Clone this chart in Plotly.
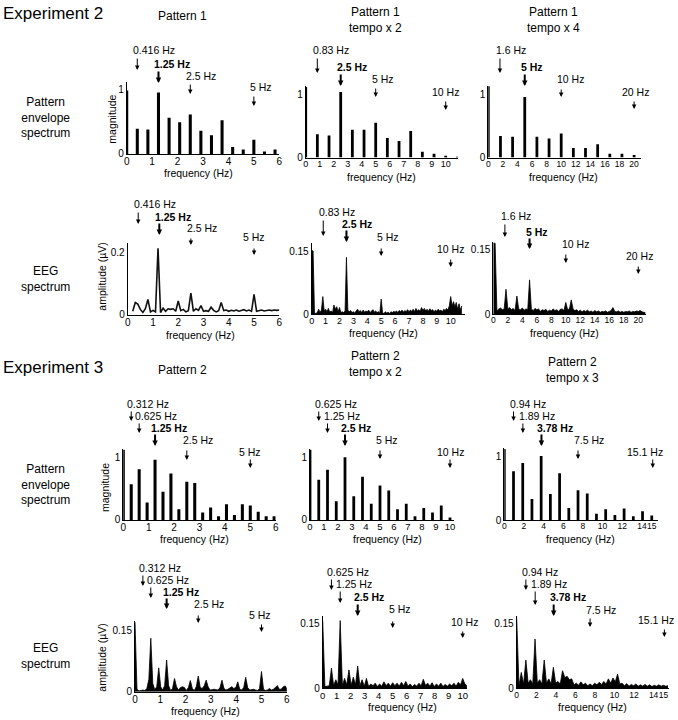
import plotly.graph_objects as go

W, H = 678, 720
FONT = "Liberation Sans, Arial, Helvetica, sans-serif"

# ---------------------------------------------------------------- data
# Pattern envelope spectra: peak frequency (Hz) and magnitude
e2_env1_freq = [0, 0.417, 0.833, 1.25, 1.667, 2.083, 2.5, 2.917, 3.333, 3.75, 4.167, 4.583, 5.0, 5.417, 5.833]
e2_env1_mag = [0.98, 0.39, 0.38, 0.95, 0.56, 0.49, 0.61, 0.36, 0.29, 0.52, 0.11, 0.07, 0.22, 0.04, 0.07]
e2_env2_freq = [0, 0.833, 1.667, 2.5, 3.333, 4.167, 5.0, 5.833, 6.667, 7.5, 8.333, 9.167, 10.0, 10.833]
e2_env2_mag = [1.12, 0.37, 0.35, 1.04, 0.44, 0.44, 0.55, 0.31, 0.26, 0.42, 0.09, 0.06, 0.02, 0.01]
e2_env3_freq = [0, 1.667, 3.333, 5.0, 6.667, 8.333, 10.0, 11.667, 13.333, 15.0, 16.667, 18.333, 20.0]
e2_env3_mag = [1.13, 0.34, 0.33, 0.96, 0.33, 0.30, 0.38, 0.15, 0.15, 0.21, 0.06, 0.06, 0.04]

e3_env1_freq = [0, 0.3125, 0.625, 0.9375, 1.25, 1.5625, 1.875, 2.1875, 2.5, 2.8125, 3.125, 3.4375,
                3.75, 4.0625, 4.375, 4.6875, 5.0, 5.3125, 5.625, 5.9375]
e3_env1_mag = [1.12, 0.57, 0.81, 0.28, 0.96, 0.45, 0.74, 0.17, 0.61, 0.59, 0.12, 0.20,
               0.06, 0.25, 0.08, 0.25, 0.23, 0.13, 0.06, 0.06]
e3_env2_freq = [0, 0.625, 1.25, 1.875, 2.5, 3.125, 3.75, 4.375, 5.0, 5.625, 6.25, 6.875, 7.5, 8.125, 8.75, 9.375, 10.0]
e3_env2_mag = [1.12, 0.64, 0.80, 0.30, 1.0, 0.38, 0.69, 0.26, 0.55, 0.47, 0.17, 0.26, 0.06, 0.19, 0.12, 0.23, 0.04]
e3_env3_freq = [0, 0.9375, 1.875, 2.8125, 3.75, 4.6875, 5.625, 6.5625, 7.5, 8.4375, 9.375, 10.3125,
                11.25, 12.1875, 13.125, 14.0625, 15.0]
e3_env3_mag = [1.12, 0.77, 0.90, 0.33, 1.01, 0.41, 0.74, 0.19, 0.47, 0.42, 0.10, 0.17,
               0.08, 0.18, 0.06, 0.14, 0.07]

# EEG amplitude spectra (µV) sampled on regular frequency bins (start, step, values)
e2_eeg1_start, e2_eeg1_step = 0.2, 0.1
e2_eeg1_amp = [0.012, 0.04, 0.035, 0.018, 0.008, 0.02, 0.05, 0.01, 0.015, 0.01,
               0.214, 0.008, 0.022, 0.012, 0.02, 0.018, 0.02, 0.012, 0.045, 0.014,
               0.018, 0.01, 0.014, 0.07, 0.012, 0.02, 0.015, 0.03, 0.012, 0.014,
               0.012, 0.025, 0.015, 0.01, 0.014, 0.04, 0.014, 0.016, 0.012, 0.015,
               0.013, 0.016, 0.012, 0.014, 0.017, 0.013, 0.016, 0.012, 0.066, 0.012,
               0.014, 0.016, 0.013, 0.015, 0.016, 0.014, 0.016, 0.015, 0.016]
e2_eeg2_start, e2_eeg2_step = 0.0, 0.1
e2_eeg2_amp = [0.151, 0.15, 0.003, 0.002, 0.004, 0.012, 0.004, 0.01, 0.042, 0.008,
               0.012, 0.006, 0.014, 0.005, 0.008, 0.004, 0.022, 0.012, 0.018, 0.006,
               0.016, 0.004, 0.006, 0.004, 0.008, 0.135, 0.01, 0.006, 0.009, 0.004,
               0.006, 0.003, 0.008, 0.012, 0.006, 0.009, 0.004, 0.01, 0.005, 0.008,
               0.006, 0.01, 0.004, 0.009, 0.011, 0.005, 0.008, 0.004, 0.006, 0.003,
               0.036, 0.003, 0.002, 0.006, 0.003, 0.005, 0.002, 0.006, 0.004, 0.007,
               0.005, 0.008, 0.004, 0.009, 0.006, 0.01, 0.005, 0.009, 0.006, 0.011,
               0.006, 0.01, 0.007, 0.012, 0.006, 0.014, 0.008, 0.011, 0.007, 0.016,
               0.009, 0.014, 0.008, 0.012, 0.007, 0.013, 0.009, 0.011, 0.006, 0.01,
               0.007, 0.012, 0.008, 0.01, 0.006, 0.012, 0.009, 0.014, 0.01, 0.02,
               0.042, 0.02, 0.03, 0.018, 0.028, 0.012, 0.025, 0.01, 0.02]
e2_eeg3_start, e2_eeg3_step = 0.0, 0.25
e2_eeg3_amp = [0.166, 0.166, 0.006, 0.012, 0.014, 0.01, 0.012, 0.058, 0.012, 0.015,
               0.01, 0.013, 0.008, 0.042, 0.012, 0.01, 0.014, 0.009, 0.012, 0.01,
               0.08, 0.012, 0.008, 0.013, 0.01, 0.012, 0.006, 0.01, 0.008, 0.011,
               0.006, 0.009, 0.007, 0.012, 0.008, 0.01, 0.006, 0.011, 0.012, 0.008,
               0.027, 0.01, 0.012, 0.033, 0.012, 0.008, 0.01, 0.006, 0.009, 0.005,
               0.008, 0.006, 0.009, 0.005, 0.007, 0.004, 0.008, 0.005, 0.007, 0.004,
               0.006, 0.005, 0.007, 0.004, 0.006, 0.008, 0.015, 0.006, 0.005, 0.007,
               0.004, 0.006, 0.004, 0.006, 0.005, 0.007, 0.004, 0.006, 0.005, 0.007,
               0.006, 0.008, 0.005, 0.004, 0.003]

e3_eeg1_start, e3_eeg1_step = 0.0, 0.078125
e3_eeg1_amp = [0.169, 0.006, 0.002, 0.003, 0.004, 0.003, 0.008, 0.03, 0.13, 0.02,
               0.005, 0.012, 0.058, 0.012, 0.004, 0.015, 0.077, 0.015, 0.003, 0.008,
               0.032, 0.012, 0.004, 0.01, 0.012, 0.01, 0.003, 0.01, 0.027, 0.008,
               0.003, 0.012, 0.038, 0.01, 0.008, 0.014, 0.028, 0.012, 0.004, 0.005,
               0.006, 0.005, 0.004, 0.01, 0.028, 0.008, 0.004, 0.006, 0.01, 0.012,
               0.008, 0.01, 0.024, 0.006, 0.004, 0.01, 0.035, 0.01, 0.004, 0.005,
               0.006, 0.004, 0.003, 0.008, 0.049, 0.006, 0.003, 0.004, 0.008, 0.004,
               0.006, 0.01, 0.015, 0.006, 0.006, 0.012, 0.014, 0.006]
e3_eeg2_start, e3_eeg2_step = 0.0, 0.15625
e3_eeg2_amp = [0.158, 0.004, 0.005, 0.006, 0.047, 0.006, 0.02, 0.008, 0.158, 0.006,
               0.023, 0.008, 0.043, 0.007, 0.026, 0.008, 0.052, 0.006, 0.02, 0.005,
               0.023, 0.004, 0.01, 0.006, 0.012, 0.004, 0.01, 0.005, 0.015, 0.006,
               0.012, 0.005, 0.013, 0.006, 0.012, 0.005, 0.014, 0.006, 0.016, 0.005,
               0.01, 0.004, 0.009, 0.005, 0.012, 0.006, 0.021, 0.007, 0.012, 0.005,
               0.013, 0.004, 0.01, 0.005, 0.012, 0.004, 0.009, 0.005, 0.01, 0.006,
               0.012, 0.005, 0.014, 0.008, 0.023, 0.01, 0.006]
e3_eeg3_start, e3_eeg3_step = 0.0, 0.234375
e3_eeg3_amp = [0.163, 0.006, 0.037, 0.01, 0.066, 0.012, 0.02, 0.01, 0.115, 0.012,
               0.02, 0.01, 0.066, 0.012, 0.022, 0.01, 0.049, 0.012, 0.016, 0.01,
               0.041, 0.025, 0.028, 0.02, 0.022, 0.008, 0.012, 0.007, 0.015, 0.008,
               0.012, 0.006, 0.01, 0.006, 0.012, 0.008, 0.014, 0.009, 0.016, 0.01,
               0.022, 0.012, 0.024, 0.015, 0.033, 0.01, 0.012, 0.006, 0.011, 0.005,
               0.009, 0.006, 0.01, 0.005, 0.008, 0.005, 0.009, 0.005, 0.008, 0.004,
               0.007, 0.005, 0.008, 0.005, 0.007, 0.005, 0.006]

# tick labels
ticks_6 = [0, 1, 2, 3, 4, 5, 6]
ticks_10 = [0, 1, 2, 3, 4, 5, 6, 7, 8, 9, 10]
ticks_20 = [0, 2, 4, 6, 8, 10, 12, 14, 16, 18, 20]
ticks_15 = [0, 2, 4, 6, 8, 10, 12, 14, 15]
yticks_env = [0, 1]
yticks_eeg02 = [0, 0.2]
yticks_eeg015 = [0, 0.15]

# marked frequencies (arrow position in Hz, label text, index of the bold one)
mark_e2_p1 = ([0.416, 1.25, 2.5, 5], ["0.416 Hz", "1.25 Hz", "2.5 Hz", "5 Hz"], 1)
mark_e2_p1x2 = ([0.83, 2.5, 5, 10], ["0.83 Hz", "2.5 Hz", "5 Hz", "10 Hz"], 1)
mark_e2_p1x4 = ([1.6, 5, 10, 20], ["1.6 Hz", "5 Hz", "10 Hz", "20 Hz"], 1)
mark_e3_p2 = ([0.312, 0.625, 1.25, 2.5, 5], ["0.312 Hz", "0.625 Hz", "1.25 Hz", "2.5 Hz", "5 Hz"], 2)
mark_e3_p2x2 = ([0.625, 1.25, 2.5, 5, 10], ["0.625 Hz", "1.25 Hz", "2.5 Hz", "5 Hz", "10 Hz"], 2)
mark_e3_p2x3 = ([0.94, 1.89, 3.78, 7.5, 15.1], ["0.94 Hz", "1.89 Hz", "3.78 Hz", "7.5 Hz", "15.1 Hz"], 2)


def bins(start, step, values):
    return [round(start + i * step, 6) for i in range(len(values))]


# ---------------------------------------------------------------- layout (pixels)
panels = [
    dict(kind="env", x=e2_env1_freq, y=e2_env1_mag, bw=0.12, x0=126.7, ppx=25.43, xmax=6.0,
         yb=154, ppy=64.7, ymax=1.12, xt=ticks_6, yt=yticks_env, mark=mark_e2_p1,
         ttl=(198, 173.3), tfs=10),
    dict(kind="env", x=e2_env2_freq, y=e2_env2_mag, bw=0.2, x0=305.7, ppx=14.0, xmax=10.9,
         yb=157.5, ppy=63.0, ymax=1.14, xt=ticks_10, yt=yticks_env, mark=mark_e2_p1x2,
         ttl=(382, 177.3), tfs=9),
    dict(kind="env", x=e2_env3_freq, y=e2_env3_mag, bw=0.38, x0=488.3, ppx=7.29, xmax=21.0,
         yb=157.5, ppy=63.0, ymax=1.14, xt=ticks_20, yt=yticks_env, mark=mark_e2_p1x4,
         ttl=(563, 177.3), tfs=8.5),
    dict(kind="line", x=bins(e2_eeg1_start, e2_eeg1_step, e2_eeg1_amp), y=e2_eeg1_amp,
         x0=127.7, ppx=25.27, xmax=6.0, yb=315, ppy=311.5, ymax=0.23, xt=ticks_6,
         yt=yticks_eeg02, mark=mark_e2_p1, ttl=(200, 335), tfs=10),
    dict(kind="fill", x=bins(e2_eeg2_start, e2_eeg2_step, e2_eeg2_amp), y=e2_eeg2_amp,
         x0=311.7, ppx=13.9, xmax=11.0, yb=314.3, ppy=422, ymax=0.168, xt=ticks_10,
         yt=yticks_eeg015, mark=mark_e2_p1x2, ttl=(383, 333.3), tfs=9),
    dict(kind="fill", x=bins(e2_eeg3_start, e2_eeg3_step, e2_eeg3_amp), y=e2_eeg3_amp,
         x0=493.3, ppx=7.25, xmax=21.0, yb=314, ppy=426.7, ymax=0.168, xt=ticks_20,
         yt=yticks_eeg015, mark=mark_e2_p1x4, ttl=(564, 333.3), tfs=8.5),
    dict(kind="env", x=e3_env1_freq, y=e3_env1_mag, bw=0.12, x0=123.3, ppx=25.4, xmax=6.0,
         yb=520, ppy=62.7, ymax=1.13, xt=ticks_6, yt=yticks_env, mark=mark_e3_p2,
         ttl=(194, 539.3), tfs=10),
    dict(kind="env", x=e3_env2_freq, y=e3_env2_mag, bw=0.2, x0=310, ppx=14.0, xmax=10.3,
         yb=520, ppy=62.7, ymax=1.13, xt=ticks_10, yt=yticks_env, mark=mark_e3_p2x2,
         ttl=(387, 539), tfs=9.5),
    dict(kind="env", x=e3_env3_freq, y=e3_env3_mag, bw=0.28, x0=504.3, ppx=9.83, xmax=15.6,
         yb=520, ppy=63.3, ymax=1.13, xt=ticks_15, yt=yticks_env, mark=mark_e3_p2x3,
         ttl=(580, 539), tfs=8.5),
    dict(kind="fill", x=bins(e3_eeg1_start, e3_eeg1_step, e3_eeg1_amp), y=e3_eeg1_amp,
         x0=135, ppx=25.3, xmax=6.0, yb=691.7, ppy=411.3, ymax=0.172, xt=ticks_6,
         yt=yticks_eeg015, mark=mark_e3_p2, ttl=(205, 711), tfs=10),
    dict(kind="fill", x=bins(e3_eeg2_start, e3_eeg2_step, e3_eeg2_amp), y=e3_eeg2_amp,
         x0=322.7, ppx=14.0, xmax=10.3, yb=688.3, ppy=428.7, ymax=0.168, xt=ticks_10,
         yt=yticks_eeg015, mark=mark_e3_p2x2, ttl=(402, 707), tfs=9.5),
    dict(kind="fill", x=bins(e3_eeg3_start, e3_eeg3_step, e3_eeg3_amp), y=e3_eeg3_amp,
         x0=516.7, ppx=9.78, xmax=15.6, yb=688.3, ppy=428.7, ymax=0.168, xt=ticks_15,
         yt=yticks_eeg015, mark=mark_e3_p2x3, ttl=(592, 707), tfs=8.5),
]

# label/arrow placement per panel: (text y px, anchor, dx px, arrow top px, arrow tip px)
mark_pos = [
    [(50, "l", 0, 57, 70), (64, "l", 0, 70, 83), (76, "l", 0, 83, 94), (87, "l", 0, 95, 106)],
    [(50, "l", 0, 57, 73), (66.7, "l", 0, 73, 86), (79, "l", 0, 87, 97), (91.7, "c", 0, 100, 110)],
    [(50, "l", 0, 57, 73), (67, "l", 0, 73, 86), (79, "l", 0, 88, 97), (91.7, "c", 1, 100, 109)],
    [(204, "l", 0, 211, 224), (217, "l", 0, 222, 235), (228, "l", 0, 237, 245), (237, "c", 0, 247, 255)],
    [(212, "l", 0, 219, 236), (224, "l", 0, 229, 242), (237, "l", 0, 247, 256), (249, "c", 0, 258, 267)],
    [(216, "l", 0, 223, 237), (232, "l", 0, 237, 249), (244, "l", 0, 253, 263), (256, "c", 1, 265, 274)],
    [(404, "l", 0, 410, 421), (416, "l", 0, 422, 433), (428, "l", 0, 433, 446), (440, "l", 0, 449, 460), (452, "c", 0, 458, 468)],
    [(404, "l", 0, 410, 421), (416, "l", 0, 422, 433), (428, "l", 0, 433, 446), (440, "l", 0, 449, 459), (452, "c", 0, 458, 468)],
    [(404, "l", 0, 410, 421), (416, "l", 0, 422, 433), (428, "l", 0, 433, 446), (440, "l", 0, 449, 459), (452, "r", 12, 458, 468)],
    [(568, "l", 0, 574, 586), (580, "l", 0, 586, 598), (592, "l", 0, 597, 609), (604, "l", 0, 614, 623), (615, "c", -2, 623, 632)],
    [(572, "l", 0, 578, 590), (584, "l", 0, 590, 603), (597, "l", 0, 603, 616), (609, "l", 0, 620, 628), (621.7, "c", 2, 630, 638)],
    [(572, "l", 0, 578, 590), (584, "l", 0, 590, 605), (597, "l", 0, 603, 616), (610, "l", 0, 617, 627), (620, "r", 12, 628, 637)],
]


def py(p):
    return 1 - p / H


def px(p):
    return p / W


fig = go.Figure()
annotations = []
layout_axes = {}

for n, p in enumerate(panels, start=1):
    xa = "x" if n == 1 else f"x{n}"
    ya = "y" if n == 1 else f"y{n}"
    if p["kind"] == "env":
        fig.add_trace(go.Bar(x=p["x"], y=p["y"], width=p["bw"], xaxis=xa, yaxis=ya,
                             marker=dict(color="black", line=dict(width=0)),
                             showlegend=False, hoverinfo="skip"))
    elif p["kind"] == "line":
        fig.add_trace(go.Scatter(x=p["x"], y=p["y"], mode="lines", xaxis=xa, yaxis=ya,
                                 line=dict(color="#111111", width=1.6),
                                 showlegend=False, hoverinfo="skip"))
    else:
        fig.add_trace(go.Scatter(x=p["x"], y=p["y"], mode="lines", xaxis=xa, yaxis=ya,
                                 line=dict(color="black", width=0.8), fill="tozeroy",
                                 fillcolor="black", showlegend=False, hoverinfo="skip"))

    xd = [px(p["x0"]), px(p["x0"] + p["xmax"] * p["ppx"])]
    yd = [py(p["yb"]), py(p["yb"] - p["ymax"] * p["ppy"])]
    common = dict(showline=True, linecolor="black", linewidth=1, showgrid=False, zeroline=False,
                  ticks="", fixedrange=True)
    layout_axes["xaxis" if n == 1 else f"xaxis{n}"] = dict(
        domain=xd, range=[0, p["xmax"]], anchor=ya, tickmode="array", tickangle=0,
        tickvals=p["xt"], ticktext=[str(t) for t in p["xt"]], ticklabelstandoff=-2,
        tickfont=dict(size=p["tfs"], color="black", family=FONT), **common)
    layout_axes["yaxis" if n == 1 else f"yaxis{n}"] = dict(
        domain=yd, range=[0, p["ymax"]], anchor=xa, tickmode="array",
        tickvals=p["yt"], ticktext=[str(t) for t in p["yt"]],
        tickfont=dict(size=10, color="black", family=FONT), **common)

    annotations.append(dict(text="frequency (Hz)", x=px(p["ttl"][0]), y=py(p["ttl"][1]),
                            xref="paper", yref="paper", showarrow=False, xanchor="center",
                            yanchor="middle", font=dict(size=10.5)))

    freqs, labels, bold_i = p["mark"]
    for i, (f, lab) in enumerate(zip(freqs, labels)):
        ty, anc, dx, a0, a1 = mark_pos[n - 1][i]
        bold = i == bold_i
        txt = f"<b>{lab}</b>" if bold else lab
        if anc == "l":
            xanchor, shift = "left", -6 + dx
        elif anc == "r":
            xanchor, shift = "right", dx
        else:
            xanchor, shift = "center", dx
        annotations.append(dict(text=txt, x=f, xref=xa, y=py(ty), yref="paper",
                                showarrow=False, xanchor=xanchor, yanchor="middle",
                                xshift=shift, font=dict(size=10.5)))
        annotations.append(dict(text="", x=f, xref=xa, y=py(a1), yref="paper",
                                showarrow=True, ax=0, ay=-(a1 - a0), axref="pixel", ayref="pixel",
                                arrowhead=2, arrowsize=0.55 if bold else 0.9,
                                arrowwidth=2 if bold else 1, arrowcolor="black"))

for txt, x_, y_ in [("magnitude", 111.7, 119), ("amplitude (µV)", 101.7, 276),
                    ("magnitude", 105, 488), ("amplitude (µV)", 101.7, 657)]:
    annotations.append(dict(text=txt, x=px(x_), y=py(y_), xref="paper", yref="paper",
                            showarrow=False, textangle=-90, xanchor="center", yanchor="middle",
                            font=dict(size=10.5)))

for txt, x_, y_ in [("Experiment 2", 1, 13), ("Experiment 3", 1, 367)]:
    annotations.append(dict(text=txt, x=px(x_), y=py(y_), xref="paper", yref="paper",
                            showarrow=False, xanchor="left", yanchor="middle",
                            font=dict(size=17)))
for txt, x_, y_ in [("Pattern 1", 182, 16), ("Pattern 1<br>tempo x 2", 375, 20),
                    ("Pattern 1<br>tempo x 4", 553, 20),
                    ("Pattern 2", 182, 370), ("Pattern 2<br>tempo x 2", 375, 364),
                    ("Pattern 2<br>tempo x 3", 572, 370)]:
    annotations.append(dict(text=txt, x=px(x_), y=py(y_), xref="paper", yref="paper",
                            showarrow=False, xanchor="center", yanchor="middle",
                            font=dict(size=12)))
for txt, y_ in [("Pattern<br>envelope<br>spectrum", 118), ("EEG<br>spectrum", 279),
                ("Pattern<br>envelope<br>spectrum", 484), ("EEG<br>spectrum", 656)]:
    annotations.append(dict(text=txt, x=px(45), y=py(y_), xref="paper", yref="paper",
                            showarrow=False, xanchor="center", yanchor="middle",
                            font=dict(size=12)))

fig.update_layout(
    template="none",
    width=W, height=H,
    margin=dict(l=0, r=0, t=0, b=0),
    paper_bgcolor="white", plot_bgcolor="white",
    font=dict(family=FONT, color="black", size=11),
    showlegend=False,
    barmode="overlay",
    annotations=annotations,
    **layout_axes,
)

fig.write_html("out.html", config={"displayModeBar": False},
               post_script="document.body.style.margin='0px';document.body.style.overflow='hidden';")
